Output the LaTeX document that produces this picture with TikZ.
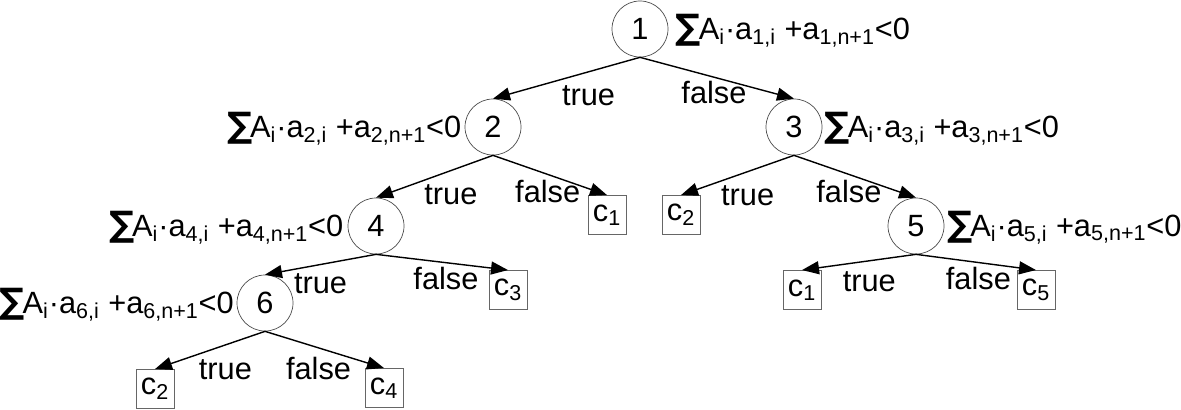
\documentclass[tikz,border=0pt]{standalone}
\usepackage{fontspec}
\setmainfont{Liberation Sans}
\newfontfamily\sumfont{DejaVu Sans}
\usetikzlibrary{arrows.meta}
\usetikzlibrary{positioning}

\newcommand{\splitcond}[1]{{\sumfont\bfseries\fontsize{20}{22}\selectfont ∑}\kern-1.2pt A\textsubscript{i}·a\textsubscript{#1,i} +a\textsubscript{#1,n+1}<0}

\begin{document}
\begin{tikzpicture}[x=0.2mm, y=-0.2mm, font=\fontsize{17.5}{20}\selectfont,
    test/.style={circle, draw=black!70, line width=0.4pt, minimum size=11.2mm, inner sep=0pt},
    leaf/.style={rectangle, draw=black!60, line width=0.5pt, minimum width=7.6mm, minimum height=7.8mm, inner sep=0pt},
    cond/.style={inner sep=0pt},
    edge/.style={-{Triangle[length=3.4mm,width=2.6mm]}, line width=0.8pt},
    lbl/.style={below, inner sep=2pt}]

      \useasboundingbox (0,0) rectangle (1181,409);

      % tests
      \node[test] (n1) at (640,29) {1};
      \node[test] (n2) at (493,127) {2};
      \node[test] (n3) at (794,127) {3};
      \node[test] (n4) at (376,226) {4};
      \node[test] (n5) at (916,226) {5};
      \node[test] (n6) at (265,303) {6};

      % leaves
      \node[leaf] (c1a) at (607,215) {c\textsubscript{1}};
      \node[leaf] (c2a) at (681,215) {c\textsubscript{2}};
      \node[leaf] (c3) at (508,290) {c\textsubscript{3}};
      \node[leaf] (c1b) at (802,290) {c\textsubscript{1}};
      \node[leaf] (c5) at (1036,290) {c\textsubscript{5}};
      \node[leaf] (c2b) at (155,389) {c\textsubscript{2}};
      \node[leaf] (c4) at (384,388) {c\textsubscript{4}};

      % conditions
      \node[cond, anchor=base west, xshift=1.4mm] (t1) at (n1.base -| n1.east) {\splitcond{1}};
      \node[cond, anchor=base east, xshift=-0.6mm] (t2) at (n2.base -| n2.west) {\splitcond{2}};
      \node[cond, anchor=base west, xshift=0.4mm] (t3) at (n3.base -| n3.east) {\splitcond{3}};
      \node[cond, anchor=base east, xshift=-0.8mm] (t4) at (n4.base -| n4.west) {\splitcond{4}};
      \node[cond, anchor=base west, xshift=0.5mm] (t5) at (n5.base -| n5.east) {\splitcond{5}};
      \node[cond, anchor=base east, xshift=-0.5mm] (t6) at (n6.base -| n6.west) {\splitcond{6}};

      % branches
      \draw[edge] (n1.south) -- node[lbl, pos=.35, yshift=-2mm] {true} (n2.north);
      \draw[edge] (n1.south) -- node[lbl, pos=.48] {false} (n3.north);
      \draw[edge] (n2.south) -- node[lbl, pos=.36, yshift=-2mm] {true} (n4.north);
      \draw[edge] (n2.south) -- node[lbl, pos=.48, yshift=-.4mm] {false} (c1a.north);
      \draw[edge] (n3.south) -- node[lbl, pos=.41, yshift=-2mm] {true} (c2a.north);
      \draw[edge] (n3.south) -- node[lbl, pos=.45, yshift=-.4mm] {false} (n5.north);
      \draw[edge] (n4.south) -- node[lbl, pos=.5, yshift=-1mm] {true} (n6.north);
      \draw[edge] (n4.south) -- node[lbl, pos=.53] {false} (c3.north);
      \draw[edge] (n5.south) -- node[lbl, pos=.41, yshift=-1.4mm] {true} (c1b.north);
      \draw[edge] (n5.south) -- node[lbl, pos=.52] {false} (c5.north);
      \draw[edge] (n6.south) -- node[lbl, pos=.36, yshift=-2mm] {true} (c2b.north);
      \draw[edge] (n6.south) -- node[lbl, pos=.45, yshift=-1mm] {false} (c4.north);
    \end{tikzpicture}
\end{document}
